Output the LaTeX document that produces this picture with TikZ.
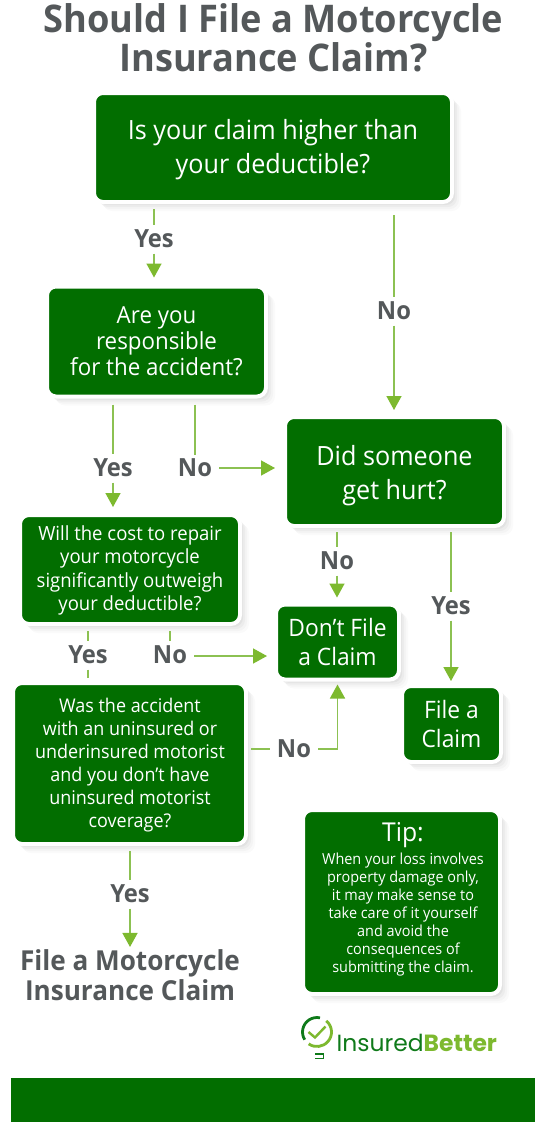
\documentclass[tikz,border=0pt]{standalone}
\usepackage{fontspec}
\setmainfont{Open Sans}[FakeStretch=0.95]
\newfontfamily\logofont{Poppins}
\usetikzlibrary{arrows.meta,shadows}
\definecolor{boxgreen}{HTML}{026E00}
\definecolor{linegreen}{HTML}{8CC152}
\definecolor{tipgreen}{HTML}{7DB92F}
\definecolor{labelgray}{HTML}{54585A}
\definecolor{logodark}{HTML}{0F7A1A}
\newcommand{\fs}[2]{\fontsize{#1}{#2}\selectfont}
\tikzset{
  softshadow/.style={
    general shadow={shadow xshift=1.5pt,shadow yshift=-1.5pt,fill=black,opacity=.04},
    general shadow={shadow xshift=3pt,shadow yshift=-3pt,fill=black,opacity=.04},
    general shadow={shadow xshift=5pt,shadow yshift=-5pt,fill=black,opacity=.03},
    general shadow={shadow xshift=7pt,shadow yshift=-7pt,fill=black,opacity=.025},
    general shadow={shadow xshift=9pt,shadow yshift=-9pt,fill=black,opacity=.02}},
  box/.style={softshadow,draw=white,line width=4pt,fill=boxgreen,rounded corners=9pt,text=white,align=center,inner sep=0pt,outer sep=2pt},
  boxtext/.style={text=white,align=center,inner sep=0pt},
  lab/.style={text=labelgray,font=\fs{25}{28}\bfseries,inner sep=0pt,outer sep=0pt,minimum height=29pt,minimum width=48pt},
  conn/.style={draw=linegreen,line width=1.5pt},
  arr/.style={conn,-{Triangle[length=14pt,width=15pt,color=tipgreen]}},
}
\begin{document}
\begin{tikzpicture}[x=1pt,y=-1pt]
\useasboundingbox (0,0) rectangle (537,1122);
\fill[white] (0,0) rectangle (537,1122);
\node[text=labelgray,font=\fs{38.1}{39}\bfseries,align=center,inner sep=0pt] (title) at (273.5,38) {Should I File a Motorcycle\\Insurance Claim?};
% boxes
\node[box,minimum width=358pt,minimum height=109pt] (b1) at (273,147.5) {};
\node[boxtext,font=\fs{26.5}{34}] (b1t) at (273,149.5) {Is your claim higher than\\your deductible?};
\node[box,minimum width=219pt,minimum height=110pt,font=\fs{23.5}{26}] (b2) at (156.5,341.5) {Are you\\responsible\\for the accident?};
\node[box,minimum width=219pt,minimum height=109pt] (b3) at (394.5,471.5) {};
\node[boxtext,font=\fs{26.5}{34.5}] (b3t) at (394.5,475.5) {Did someone\\get hurt?};
\node[box,minimum width=220pt,minimum height=109pt] (b4) at (130,569.5) {};
\node[boxtext,font=\fs{19.5}{23.2}] (b4t) at (130,570.5) {Will the cost to repair\\your motorcycle\\significantly outweigh\\your deductible?};
\node[box,minimum width=123pt,minimum height=75pt,font=\fs{24}{29}] (dont) at (337.5,642) {Don’t File\\a Claim};
\node[box,minimum width=99pt,minimum height=76pt,font=\fs{24}{29}] (file) at (451.5,724) {File a\\Claim};
\node[box,minimum width=233pt,minimum height=161pt] (b7) at (129.5,763.5) {};
\node[boxtext,font=\fs{18.9}{23}] (b7t) at (130,765) {Was the accident\\with an uninsured or\\underinsured motorist\\and you don’t have\\uninsured motorist\\coverage?};
\node[box,minimum width=197pt,minimum height=184pt] (tip) at (401.5,902) {};
\node[boxtext,font=\fs{26}{28}] (tiphead) at (403,835) {Tip:};
\node[boxtext,font=\fs{15.2}{18}] (tiptext) at (403,914.5) {When your loss involves\\property damage only,\\it may make sense to\\take care of it yourself\\and avoid the\\consequences of\\submitting the claim.};
% labels
\node[lab] (y1) at (154,239) {Yes};
\node[lab] (n1) at (394,311) {No};
\node[lab] (y2) at (113,468) {Yes};
\node[lab] (n2) at (195,468) {No};
\node[lab] (n3) at (337,561) {No};
\node[lab] (y3) at (451,606) {Yes};
\node[lab] (y4) at (88,655) {Yes};
\node[lab] (n4) at (170,655) {No};
\node[lab] (n5) at (294,749) {No};
\node[lab] (y5) at (130,894) {Yes};
\node[text=labelgray,font=\fs{27.5}{30.5}\bfseries,align=center,inner sep=0pt] (final) at (130,975) {File a Motorcycle\\Insurance Claim};
% connectors
\draw[conn,shorten <=5pt] (b1.south -| y1) -- (y1);
\draw[arr,shorten >=7pt] (y1) -- (y1 |- b2.north);
\draw[conn,shorten <=11pt] (b1.south -| n1) -- (n1);
\draw[arr,shorten >=5pt] (n1) -- (n1 |- b3.north);
\draw[conn,shorten <=6pt] (b2.south -| y2) -- (y2);
\draw[arr,shorten >=6pt] (y2) -- (y2 |- b4.north);
\draw[conn,shorten <=6pt] (b2.south -| n2) -- ([yshift=-1pt]n2.north);
\draw[arr,shorten >=8pt] (n2.east |- 0,468) -- (b3.west |- 0,468);
\draw[conn,shorten <=4pt] (b3.south -| n3) -- (n3);
\draw[arr,shorten >=5pt] (n3) -- (n3 |- dont.north);
\draw[conn,shorten <=4pt] (b3.south -| y3) -- (y3);
\draw[arr,shorten >=3pt] (y3) -- (y3 |- file.north);
\draw[conn,shorten <=5pt] (b4.south -| y4) -- (y4);
\draw[conn,shorten >=3pt] (y4) -- (y4 |- b7.north);
\draw[conn,shorten <=5pt] (b4.south -| n4) -- (n4);
\draw[arr,shorten >=7pt] (n4.east |- 0,656) -- (dont.west |- 0,656);
\draw[conn,shorten <=3pt] (b7.east |- n5) -- (n5);
\draw[arr,shorten >=3pt] (n5) -- (n5 -| dont) -- (dont.south);
\draw[conn,shorten <=5pt] (b7.south -| y5) -- (y5);
\draw[arr,shorten >=2pt] (y5) -- (y5 |- final.north);
% logo
\coordinate (lc) at (317,1032);
\draw[logodark,line width=2.8pt] (lc) ++(-78:14.5) arc[start angle=-78,end angle=-212,radius=14.5];
\draw[tipgreen,line width=2.8pt] (lc) ++(-50:14.5) arc[start angle=-50,end angle=125,radius=14.5];
\draw[tipgreen,line width=2.4pt] (308.5,1032) -- (315,1037.5) -- (325.5,1026.5);
\draw[logodark,line width=1.7pt] (315,1054) -- (323.5,1054) -- (323.5,1058.5) -- (315,1058.5);
\node[font=\fs{23.4}{30}\logofont,inner sep=0pt,anchor=west] (logotext) at (336.5,1043) {\textcolor{logodark}{Insured}\textcolor{tipgreen}{\textbf{Better}}};
% bar
\node[fill=boxgreen,inner sep=0pt,minimum width=524pt,minimum height=44pt] (bar) at (273,1100) {};
\end{tikzpicture}
\end{document}
